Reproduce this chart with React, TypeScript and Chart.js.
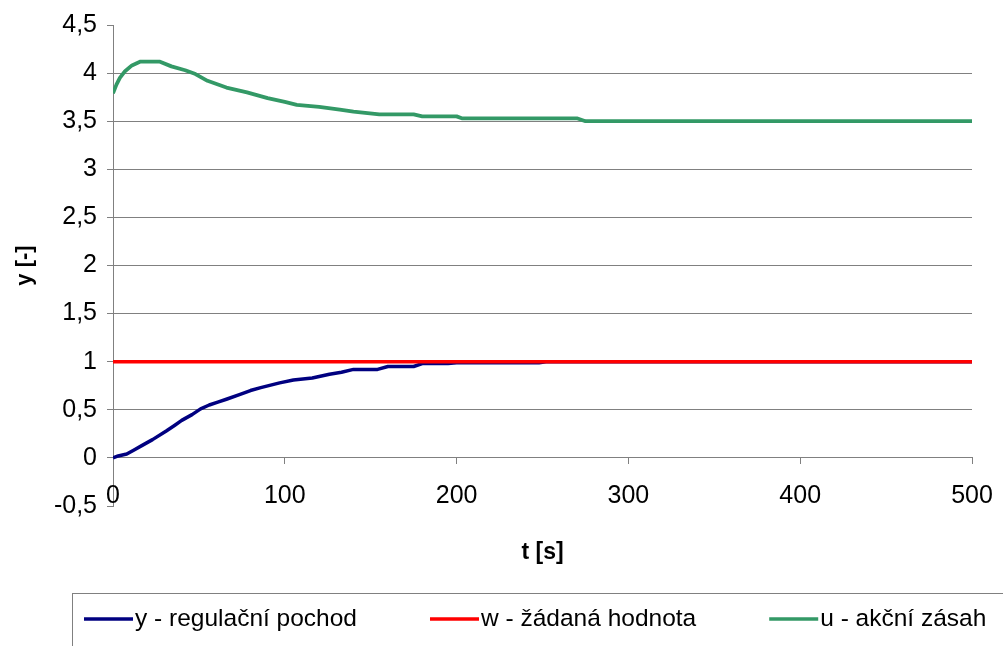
import React, { useEffect, useRef } from 'react';
import { Chart, registerables } from 'chart.js';

Chart.register(...registerables);

// Time axis samples [s] and values for each series
const tY = [0, 3, 8, 12, 17, 23, 31, 36, 40, 46, 51, 56, 61, 66, 74, 80, 86, 97, 105, 116, 126, 133, 140, 154, 160, 175, 180, 195, 200, 248, 252, 500];
const yValues = [0, 0.02, 0.04, 0.08, 0.13, 0.19, 0.28, 0.34, 0.39, 0.45, 0.51, 0.55, 0.58, 0.61, 0.66, 0.7, 0.73, 0.78, 0.81, 0.83, 0.87, 0.89, 0.92, 0.92, 0.95, 0.95, 0.98, 0.98, 0.99, 0.99, 1.0, 1.0];

const tW = [0, 500];
const wValues = [1, 1];

const tU = [0, 2, 4, 7, 11, 16, 27, 34, 42, 48, 55, 66, 78, 90, 100, 107, 120, 132, 140, 155, 175, 180, 200, 203, 270, 275, 500];
const uValues = [3.79, 3.88, 3.95, 4.02, 4.08, 4.12, 4.12, 4.07, 4.03, 3.99, 3.92, 3.85, 3.8, 3.74, 3.7, 3.67, 3.65, 3.62, 3.6, 3.57, 3.57, 3.55, 3.55, 3.53, 3.53, 3.5, 3.5];

const seriesLabels = ['y - regulační pochod', 'w - žádaná hodnota', 'u - akční zásah'];
const seriesColors = ['#000080', '#FF0000', '#339966'];

const yTickValues = [-0.5, 0, 0.5, 1, 1.5, 2, 2.5, 3, 3.5, 4, 4.5];
const xTickValues = [0, 100, 200, 300, 400, 500];

const FONT = '"Liberation Sans", Arial, sans-serif';
const GRID = '#808080';

const toPoints = (xs: number[], ys: number[]) => xs.map((x, i) => ({ x, y: ys[i] }));
const fmt = (v: number) => String(v).replace('.', ',');

// Legend drawn inside a framed box below the plot
const boxedLegend = {
  id: 'boxedLegend',
  afterDraw(chart: any) {
    const { ctx } = chart;
    const midY = 619;
    ctx.save();
    ctx.strokeStyle = GRID;
    ctx.lineWidth = 1;
    ctx.strokeRect(72.5, 593.5, 1000, 100);
    ctx.font = `24.5px ${FONT}`;
    ctx.textBaseline = 'middle';
    ctx.textAlign = 'left';
    let x = 84;
    chart.data.datasets.forEach((ds: any) => {
      ctx.strokeStyle = ds.borderColor;
      ctx.lineWidth = 3.5;
      ctx.beginPath();
      ctx.moveTo(x, midY);
      ctx.lineTo(x + 49, midY);
      ctx.stroke();
      ctx.fillStyle = '#000';
      ctx.fillText(ds.label, x + 51, midY);
      x += 51 + ctx.measureText(ds.label).width + 73;
    });
    ctx.restore();
  },
};

export default function App() {
  const canvasRef = useRef<HTMLCanvasElement | null>(null);

  useEffect(() => {
    if (!canvasRef.current) return;
    Chart.defaults.font.family = FONT;
    Chart.defaults.color = '#000';

    const chart = new Chart(canvasRef.current, {
      type: 'line',
      data: {
        datasets: [
          {
            label: seriesLabels[0],
            data: toPoints(tY, yValues),
            borderColor: seriesColors[0],
            borderWidth: 3.5,
            order: 2,
          },
          {
            label: seriesLabels[1],
            data: toPoints(tW, wValues),
            borderColor: seriesColors[1],
            borderWidth: 3.5,
            order: 1,
          },
          {
            label: seriesLabels[2],
            data: toPoints(tU, uValues),
            borderColor: seriesColors[2],
            borderWidth: 3.8,
            order: 0,
          },
        ],
      },
      options: {
        animation: false,
        responsive: false,
        parsing: false as any,
        elements: {
          point: { radius: 0 },
          line: { tension: 0, fill: false, borderCapStyle: 'butt', borderJoinStyle: 'round' },
        },
        layout: { padding: { left: 0, right: 31, top: 24, bottom: 0 } },
        plugins: {
          legend: { display: false },
          tooltip: { enabled: false },
        },
        scales: {
          y: {
            type: 'linear',
            position: 'left',
            min: -0.5,
            max: 4.5,
            afterFit: (s: any) => {
              s.width = 113;
            },
            afterBuildTicks: (s: any) => {
              s.ticks = yTickValues.map((value) => ({ value }));
            },
            ticks: {
              padding: 10,
              font: { size: 25 },
              color: '#000',
              callback: (v: any) => fmt(Number(v)),
            },
            grid: {
              color: (c: any) =>
                c.tick && (c.tick.value === -0.5 || c.tick.value === 4.5) ? 'rgba(0,0,0,0)' : GRID,
              lineWidth: 1,
              drawTicks: true,
              tickLength: 6,
              tickColor: GRID,
            },
            border: { display: true, color: GRID, width: 1 },
            title: {
              display: true,
              text: 'y [-]',
              font: { size: 22, weight: 'bold' },
              color: '#000',
              padding: { top: 12, bottom: 0 },
            },
          },
          x: {
            type: 'linear',
            position: { y: 0 } as any,
            min: 0,
            max: 500,
            afterBuildTicks: (s: any) => {
              s.ticks = xTickValues.map((value) => ({ value }));
            },
            afterFit: (s: any) => {
              // the end labels fit inside the layout padding already
              s.paddingLeft = 0;
              s.paddingRight = 0;
            },
            ticks: {
              padding: 17,
              font: { size: 25 },
              color: '#000',
              maxRotation: 0,
              autoSkip: false,
              callback: (v: any) => fmt(Number(v)),
            },
            grid: {
              drawOnChartArea: false,
              drawTicks: true,
              tickLength: 6,
              tickColor: GRID,
              color: GRID,
            },
            border: { display: true, color: GRID, width: 1 },
          },
          xTitle: {
            type: 'linear',
            position: 'bottom',
            min: 0,
            max: 500,
            afterFit: (s: any) => {
              s.height = 140;
              s.paddingLeft = 0;
              s.paddingRight = 0;
            },
            ticks: { display: false },
            grid: { display: false },
            border: { display: false },
            title: {
              display: true,
              text: 't [s]',
              font: { size: 23, weight: 'bold' },
              color: '#000',
              padding: { top: 0, bottom: 80 },
            },
          },
        },
      },
      plugins: [boxedLegend],
    });

    return () => chart.destroy();
  }, []);

  return (
    <div style={{ position: 'fixed', left: 0, top: 0, width: 1003, height: 646, background: '#fff', overflow: 'hidden' }}>
      <canvas ref={canvasRef} width={1003} height={646} style={{ width: 1003, height: 646, display: 'block' }} />
    </div>
  );
}
